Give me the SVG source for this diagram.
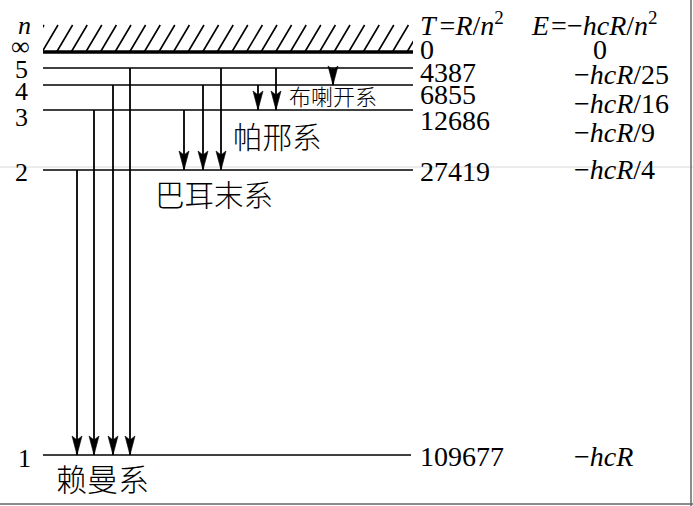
<svg xmlns="http://www.w3.org/2000/svg" width="693" height="506" viewBox="0 0 693 506">
<style>
.lvl{stroke:#000;stroke-width:1.6;fill:none}
.tr{stroke:#000;stroke-width:1.8;fill:none;marker-end:url(#ah)}
.num{font-size:28px;fill:#000}
.lab{font-size:26px;fill:#000}
.it{font-style:italic}
.cjk{font-weight:300;fill:#000}
</style>
<defs>
<marker id="ah" markerUnits="userSpaceOnUse" markerWidth="22" markerHeight="12" viewBox="-20 -6 22 12" refX="0" refY="0" orient="auto">
<path d="M0,0 L-19,-5 L-15,0 L-19,5 Z" fill="#000" stroke="#000" stroke-width="0.6"/>
</marker>
<clipPath id="hc"><rect x="43" y="23" width="370" height="30"/></clipPath>
</defs>
<rect width="693" height="506" fill="#fff"/>
<line x1="0" y1="167" x2="693" y2="167" stroke="#d8d8d8" stroke-width="1"/>
<line x1="691" y1="0" x2="691" y2="506" stroke="#666" stroke-width="1.5"/>
<line x1="0" y1="504" x2="693" y2="504" stroke="#666" stroke-width="1.5"/>
<g id="limit">
<path clip-path="url(#hc)" stroke="#000" stroke-width="1.6" fill="none" d="M28,52 l16,-27 M42,52 l16,-27 M56.6,52 l16,-27 M71.2,52 l16,-27 M85.8,52 l16,-27 M100.4,52 l16,-27 M115,52 l16,-27 M129.6,52 l16,-27 M144.2,52 l16,-27 M158.8,52 l16,-27 M173.4,52 l16,-27 M188,52 l16,-27 M202.6,52 l16,-27 M217.2,52 l16,-27 M231.8,52 l16,-27 M246.4,52 l16,-27 M261,52 l16,-27 M275.6,52 l16,-27 M290.2,52 l16,-27 M304.8,52 l16,-27 M319.4,52 l16,-27 M334,52 l16,-27 M348.6,52 l16,-27 M363.2,52 l16,-27 M377.8,52 l16,-27 M392.4,52 l16,-27 M407,52 l16,-27"/>
<line x1="43" y1="52" x2="413" y2="52" stroke="#000" stroke-width="3.5"/>
</g>
<g id="level5"><line class="lvl" x1="43" y1="68" x2="413" y2="68" stroke-width="2"/></g>
<g id="level4"><line class="lvl" x1="43" y1="85" x2="413" y2="85"/></g>
<g id="level3"><line class="lvl" x1="43" y1="110" x2="413" y2="110"/></g>
<g id="level2"><line class="lvl" x1="43" y1="170" x2="413" y2="170"/></g>
<g id="level1"><line class="lvl" x1="43" y1="455" x2="411" y2="455" stroke-width="2"/></g>
<g id="connectors">
<line class="tr" x1="77" y1="170" x2="77" y2="455"/>
<line class="tr" x1="94" y1="110" x2="94" y2="455"/>
<line class="tr" x1="113" y1="85" x2="113" y2="455"/>
<line class="tr" x1="130" y1="68" x2="130" y2="455"/>
<line class="tr" x1="184" y1="110" x2="184" y2="170"/>
<line class="tr" x1="203" y1="85" x2="203" y2="170"/>
<line class="tr" x1="221" y1="68" x2="221" y2="170"/>
<line class="tr" x1="258" y1="85" x2="258" y2="110"/>
<line class="tr" x1="276" y1="68" x2="276" y2="110"/>
<line class="tr" x1="333" y1="68" x2="333" y2="85"/>
</g>
<g id="left-labels" font-family="'Liberation Serif', 'Times New Roman', 'DejaVu Serif', serif">
<text class="lab it" x="18" y="34" font-size="25">n</text>
<text class="lab" x="11" y="55" font-size="25">∞</text>
<text class="lab" x="15" y="78">5</text>
<text class="lab" x="15" y="100">4</text>
<text class="lab" x="15" y="126">3</text>
<text class="lab" x="15" y="181">2</text>
<text class="lab" x="18" y="467">1</text>
</g>
<g id="term-column" font-family="'Liberation Serif', 'Times New Roman', 'DejaVu Serif', serif">
<text class="num" x="420" y="35" font-size="29"><tspan class="it">T</tspan><tspan dx="4">=</tspan><tspan class="it">R</tspan>/<tspan class="it">n</tspan><tspan font-size="19" dy="-11">2</tspan></text>
<text class="num" x="420" y="59">0</text>
<text class="num" x="420" y="82">4387</text>
<text class="num" x="420" y="104">6855</text>
<text class="num" x="420" y="130">12686</text>
<text class="num" x="420" y="181">27419</text>
<text class="num" x="420" y="466">109677</text>
</g>
<g id="energy-column" font-family="'Liberation Serif', 'Times New Roman', 'DejaVu Serif', serif">
<text class="num" x="532" y="35" font-size="29"><tspan class="it">E</tspan><tspan dx="2">=−</tspan><tspan class="it">hcR</tspan>/<tspan class="it">n</tspan><tspan font-size="19" dy="-11">2</tspan></text>
<text class="num" x="593" y="59">0</text>
<text class="num" x="574" y="84">−<tspan class="it">hcR</tspan>/25</text>
<text class="num" x="574" y="113">−<tspan class="it">hcR</tspan>/16</text>
<text class="num" x="574" y="142">−<tspan class="it">hcR</tspan>/9</text>
<text class="num" x="574" y="179">−<tspan class="it">hcR</tspan>/4</text>
<text class="num" x="574" y="466">−<tspan class="it">hcR</tspan></text>
</g>
<g id="series-labels" font-family="'Noto Sans CJK SC', sans-serif">
<text class="cjk" x="289" y="105" font-size="22">布喇开系</text>
<text class="cjk" x="233" y="148" font-size="29.5">帕邢系</text>
<text class="cjk" x="155" y="206" font-size="29.5">巴耳末系</text>
<text class="cjk" x="56" y="491" font-size="31">赖曼系</text>
</g>
</svg>
